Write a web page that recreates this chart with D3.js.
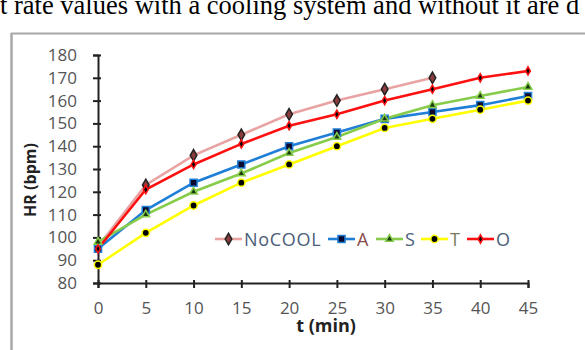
<!DOCTYPE html>
<html><head><meta charset="utf-8">
<script src="https://cdn.jsdelivr.net/npm/d3@7"></script>
<style>body{margin:0;background:#fff;overflow:hidden}svg{display:block}</style>
</head><body>
<svg id="c" width="585" height="350"></svg>
<script>
const times = [0,5,10,15,20,25,30,35,40,45];
const yTicks = [80,90,100,110,120,130,140,150,160,170,180];
const seriesNames = ["NoCOOL","A","S","T","O"];
const noCool = [96,123,136,145,154,160,165,170];
const seriesA = [95,112,124,132,140,146,152,155,158,162];
const seriesS = [98,110,120,128,137,144,152,158,162,166];
const seriesT = [88,102,114,124,132,140,148,152,156,160];
const seriesO = [95,121,132,141,149,154,160,165,170,173];
const lineColors = ["#e9a3a3","#1f7fd6","#86cc4a","#ffff00","#ff1010"];
const markerShapes = [d3.symbolDiamond,d3.symbolSquare,d3.symbolTriangle,d3.symbolCircle,d3.symbolDiamond];
const markerFill = ["#8a3c3c","#0a0a30","#1a3a10","#000000","#000000"];
const markerStroke = ["#222","#1f7fd6","#86cc4a","#ffff00","#ff1010"];
const markerSize = [38,50,26,42,20];
const legendText = ["#4a5d7a","#8b4a4a","#4a5d7a","#7a7a5a","#4a5d7a"];
const allSeries = [noCool,seriesA,seriesS,seriesT,seriesO];

const svg = d3.select("#c");
svg.append("text").attr("x",0).attr("y",14).attr("font-family","Liberation Serif, Times New Roman, serif")
  .attr("font-size",26.5).attr("fill","#000").text("t rate values with a cooling system and without it are d");
svg.append("line").attr("x1",11).attr("x2",585).attr("y1",33.5).attr("y2",33.5).attr("stroke","#a8a8a8").attr("stroke-width",2);
svg.append("line").attr("x1",11.5).attr("x2",11.5).attr("y1",33).attr("y2",350).attr("stroke","#a8a8a8").attr("stroke-width",2.5);

const x = d3.scaleLinear().domain([0,45]).range([98,528]);
const y = d3.scaleLinear().domain([80,180]).range([283,55]);
const font = "Open Sans, Lato, sans-serif";

const yAxis = svg.append("g").attr("transform","translate(98,0)").call(d3.axisLeft(y).tickValues(yTicks).tickSize(5).tickPadding(16));
const xAxis = svg.append("g").attr("transform","translate(0,283)").call(d3.axisBottom(x).tickValues(times).tickSize(5).tickPadding(14));
[yAxis,xAxis].forEach(a=>{
  a.select(".domain").attr("stroke","#222").attr("stroke-width",2);
  a.selectAll(".tick line").attr("stroke","#222").attr("stroke-width",2);
  a.selectAll("text").attr("font-family",font).attr("font-size",17).attr("fill","#555");
});
xAxis.selectAll(".tick line").attr("y1",-3);
yAxis.selectAll(".tick line").attr("x1",3);

svg.append("text").attr("transform","translate(36,180) rotate(-90)").attr("text-anchor","middle")
  .attr("font-family",font).attr("font-weight","bold").attr("font-size",16).attr("fill","#222").text("HR (bpm)");
svg.append("text").attr("x",326).attr("y",332).attr("text-anchor","middle")
  .attr("font-family",font).attr("font-weight","bold").attr("font-size",18).attr("fill","#222").text("t (min)");

const line = d3.line().x((d,i)=>x(times[i])).y(d=>y(d));
allSeries.forEach((s,k)=>{
  svg.append("path").datum(s).attr("d",line).attr("fill","none").attr("stroke",lineColors[k]).attr("stroke-width",2.6);
});
allSeries.forEach((s,k)=>{
  svg.selectAll(null).data(s).enter().append("path")
    .attr("d",d3.symbol().type(markerShapes[k]).size(markerSize[k]))
    .attr("transform",(d,i)=>`translate(${x(times[i])},${y(d)})`)
    .attr("fill",markerFill[k]).attr("stroke",markerStroke[k]).attr("stroke-width",1.5);
});

const legX = [215,328,376,421,467];
const lg = svg.append("g");
seriesNames.forEach((n,k)=>{
  const g = lg.append("g").attr("transform",`translate(${legX[k]},239)`);
  g.append("line").attr("x1",0).attr("x2",27).attr("stroke",lineColors[k]).attr("stroke-width",2.6);
  g.append("path").attr("d",d3.symbol().type(markerShapes[k]).size(markerSize[k])).attr("transform","translate(13.5,0)")
    .attr("fill",markerFill[k]).attr("stroke",markerStroke[k]).attr("stroke-width",1.5);
  g.append("text").attr("x",29).attr("y",6.5).attr("font-family",font).attr("font-size",18).attr("letter-spacing",0.7).attr("fill",legendText[k]).text(n);
});
</script>
</body></html>
